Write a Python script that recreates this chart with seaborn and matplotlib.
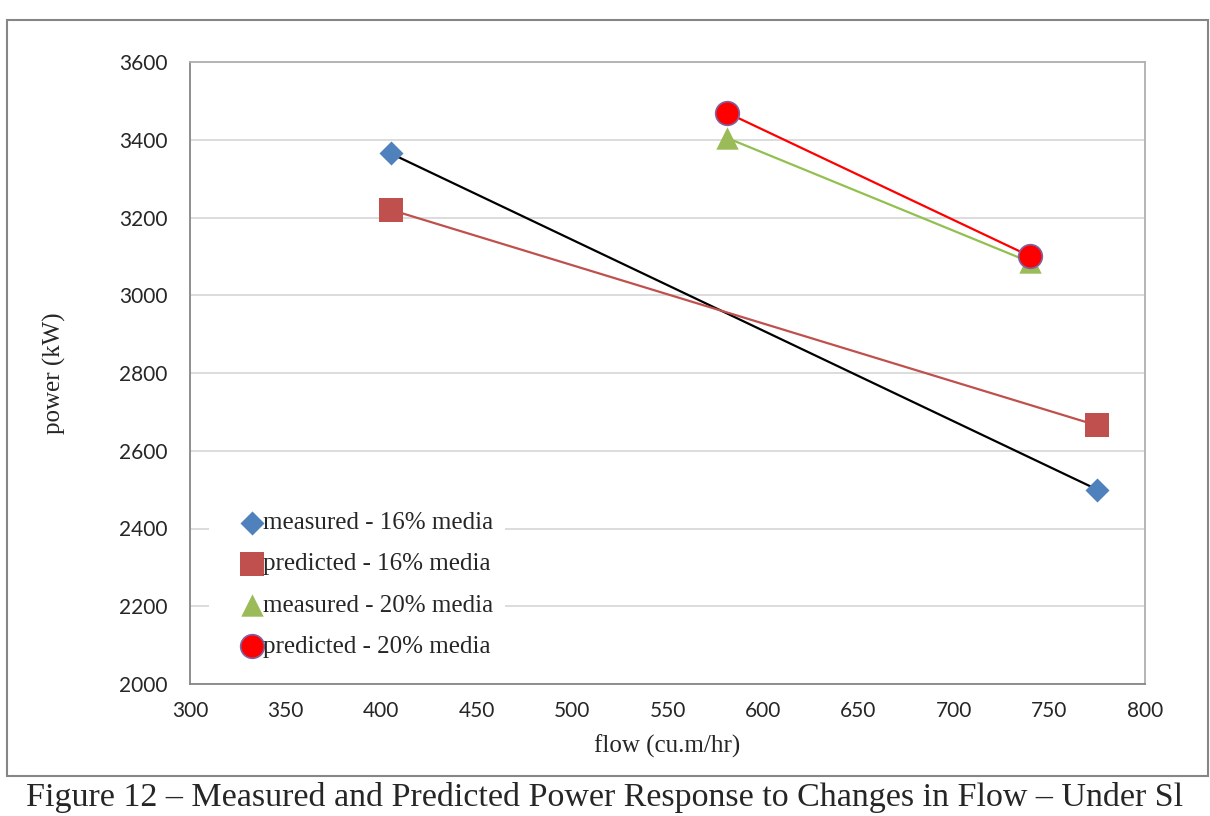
import pandas as pd
import matplotlib.pyplot as plt
import matplotlib.patches as patches
import seaborn as sns

# ==============================
# Data
# ==============================
series_names = [
    "measured - 16% media",
    "predicted - 16% media",
    "measured - 20% media",
    "predicted - 20% media",
]
flow_16 = [405, 775]
measured_16 = [3365, 2500]
predicted_16 = [3220, 2665]
flow_20 = [581, 740]
measured_20 = [3405, 3085]
predicted_20 = [3470, 3100]

x_ticks = [300, 350, 400, 450, 500, 550, 600, 650, 700, 750, 800]
y_ticks = [2000, 2200, 2400, 2600, 2800, 3000, 3200, 3400, 3600]

df = pd.concat([
    pd.DataFrame({"flow": flow_16, "power": measured_16, "series": series_names[0]}),
    pd.DataFrame({"flow": flow_16, "power": predicted_16, "series": series_names[1]}),
    pd.DataFrame({"flow": flow_20, "power": measured_20, "series": series_names[2]}),
    pd.DataFrame({"flow": flow_20, "power": predicted_20, "series": series_names[3]}),
], ignore_index=True)

# Styles per series
line_colors = ["#000000", "#c0504d", "#92c050", "#ff0000"]
marker_colors = ["#4f81bd", "#c0504d", "#9bbb59", "#ff0000"]
edge_colors = ["#4f81bd", "#c0504d", "#9bbb59", "#8064a2"]
markers = ["D", "s", "^", "o"]
sizes = [150, 300, 260, 290]

sns.set_style("white")
serif = ["Liberation Serif", "DejaVu Serif"]
sans = ["Lato", "DejaVu Sans"]

fig = plt.figure(figsize=(12.1, 8.16), dpi=100)
ax = fig.add_axes([190 / 1210, 1 - 684 / 816, (1145 - 190) / 1210, (684 - 62) / 816])

# Lines
for i, name in enumerate(series_names):
    sub = df[df["series"] == name]
    sns.lineplot(data=sub, x="flow", y="power", color=line_colors[i],
                 linewidth=1.6, ax=ax, legend=False, zorder=3, sort=False)

# Markers
for i, name in enumerate(series_names):
    sub = df[df["series"] == name]
    sns.scatterplot(data=sub, x="flow", y="power", marker=markers[i],
                    s=sizes[i], color=marker_colors[i],
                    edgecolor=edge_colors[i], linewidth=1.2 if i == 3 else 0,
                    ax=ax, label=name, zorder=4)

# Axes
ax.set_xlim(300, 800)
ax.set_ylim(2000, 3600)
ax.set_xticks(x_ticks)
ax.set_yticks(y_ticks)
ax.yaxis.grid(True, color="#d9d9d9", linewidth=1.3)
ax.xaxis.grid(False)
ax.set_axisbelow(True)

for side in ["left", "bottom"]:
    ax.spines[side].set_color("#868686")
    ax.spines[side].set_linewidth(1.3)
for side in ["top", "right"]:
    ax.spines[side].set_color("#b0b0b0")
    ax.spines[side].set_linewidth(1.3)

ax.tick_params(axis="both", direction="out", length=6, width=1.2,
               color="#868686", labelsize=15)
ax.tick_params(axis="y", pad=10)
ax.tick_params(axis="x", pad=6)
for lab in ax.get_xticklabels() + ax.get_yticklabels():
    lab.set_family(sans)

ax.set_xlabel("flow (cu.m/hr)", family=serif, fontsize=18, labelpad=10)
ax.set_ylabel("power (kW)", family=serif, fontsize=18, labelpad=38)

# Legend
leg = ax.legend(loc="lower left", bbox_to_anchor=(0.02, 0.022),
                frameon=True, framealpha=1, edgecolor="white",
                handletextpad=-0.76, handlelength=2.4, labelspacing=0.75,
                borderpad=0.5, borderaxespad=0,
                prop={"family": serif, "size": 18})
leg.get_frame().set_linewidth(0)

# Outer chart border and caption
fig.patches.append(patches.Rectangle((7 / 1210, 1 - 776 / 816), 1201 / 1210, 756 / 816,
                                     transform=fig.transFigure, fill=False,
                                     edgecolor="#868686", linewidth=1.5))
fig.text(0.5, 1 - 806 / 816,
         "Figure 12 \u2013 Measured and Predicted Power Response to Changes in Flow \u2013 Under Sl",
         ha="center", va="baseline", family=serif, fontsize=24.5)

plt.savefig("out.png", dpi=100)
plt.close()
